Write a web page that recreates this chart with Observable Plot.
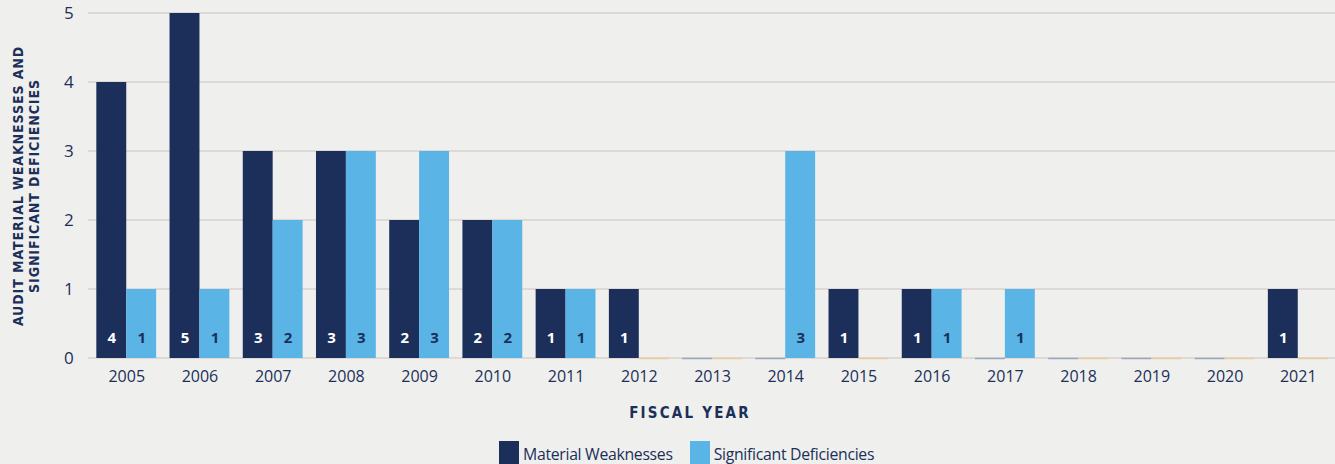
<!DOCTYPE html>
<html><head><meta charset="utf-8">
<script src="https://cdn.jsdelivr.net/npm/d3@7"></script>
<script src="https://cdn.jsdelivr.net/npm/@observablehq/plot@0.6"></script>
<style>
html,body{margin:0;padding:0;background:#efefed;}
#wrap{position:relative;width:1335px;height:464px;overflow:hidden;}
.legend{position:absolute;top:441px;left:499px;display:flex;align-items:flex-start;font-family:"Open Sans","Noto Sans",sans-serif;font-size:15.8px;color:#1c2f5a;letter-spacing:-0.3px}
.legend span.sw{display:inline-block;width:20px;height:24px;margin-right:4px;}
.legend .item{display:flex;align-items:flex-start;margin-right:17px;line-height:26px}
</style></head>
<body><div id="wrap"></div>
<script>
const years = ["2005","2006","2007","2008","2009","2010","2011","2012","2013","2014","2015","2016","2017","2018","2019","2020","2021"];
const materialWeaknesses = [4,5,3,3,2,2,1,1,0,0,1,1,0,0,0,0,1];
const significantDeficiencies = [1,1,2,3,3,2,1,0,0,3,0,1,1,0,0,0,0];
const seriesNames = ["Material Weaknesses","Significant Deficiencies"];
const yTicks = [0,1,2,3,4,5];
const colors = ["#1c2f5a","#5ab4e6"];
const navy = "#1c2f5a";

const rows = [];
years.forEach((y,i)=>{
  rows.push({year:y, series:seriesNames[0], value:materialWeaknesses[i]});
  rows.push({year:y, series:seriesNames[1], value:significantDeficiencies[i]});
});
const nonzero = rows.filter(d=>d.value>0);
const zeroMW = rows.filter(d=>d.value===0 && d.series===seriesNames[0]);
const zeroSD = rows.filter(d=>d.value===0 && d.series===seriesNames[1]);
const labelFont = '"Liberation Sans Narrow","DejaVu Sans Condensed","Open Sans",sans-serif';

const chart = Plot.plot({
  width:1335, height:464,
  marginLeft:89, marginRight:0, marginTop:13, marginBottom:106,
  style:{background:"transparent", color:navy, fontFamily:'"Open Sans","Noto Sans",sans-serif'},
  fx:{domain:years, paddingInner:0.183, paddingOuter:0.1, round:false, label:null, axis:null},
  x:{domain:seriesNames, padding:0, round:false, axis:null},
  y:{domain:[0,5], ticks:yTicks, label:null},
  color:{domain:seriesNames, range:colors},
  marks:[
    Plot.axisY({ticks:yTicks, tickSize:0, tickPadding:23, fontSize:17, tickFormat:d=>String(d), label:null}),
    Plot.axisFx({anchor:"bottom", tickSize:0, tickPadding:12, fontSize:16, label:null}),
    Plot.barY(nonzero, {fx:"year", x:"series", y:"value", fill:"series"}),
    Plot.tickY(zeroMW, {fx:"year", x:"series", y:"value", stroke:"#9aa6bf", strokeWidth:1.5}),
    Plot.tickY(zeroSD, {fx:"year", x:"series", y:"value", stroke:"#e9cc9c", strokeWidth:1.5}),
    Plot.text(nonzero, {fx:"year", x:"series", y:0, text:d=>String(d.value), dy:-20, fontSize:15, fontWeight:"bold",
      fill:d=>d.series===seriesNames[0]?"#ffffff":navy, fontFamily:'"Open Sans",sans-serif'}),
  ]
});

const wrap = document.getElementById("wrap");
wrap.appendChild(chart);

const svg = d3.select(chart.tagName.toLowerCase()==="svg"?chart:chart.querySelector("svg"));
const yScale = chart.scale("y");
const grid = svg.insert("g", ":first-child")
  .attr("stroke","#d8d1ce").attr("stroke-width",1.3);
yTicks.forEach(t=>{
  const yy = yScale.apply(t);
  grid.append("line").attr("x1",88).attr("x2",1335).attr("y1",yy).attr("y2",yy);
});

const yl = svg.append("text")
  .attr("transform","translate(0,186) rotate(-90)")
  .attr("text-anchor","middle")
  .attr("fill",navy)
  .style("font-family",labelFont)
  .style("font-weight","bold")
  .style("font-size","14px")
  .style("letter-spacing","0.9px");
yl.append("tspan").attr("x",0).attr("y",23).text("AUDIT MATERIAL WEAKNESSES AND");
yl.append("tspan").attr("x",0).attr("y",39).text("SIGNIFICANT DEFICIENCIES");

svg.append("text")
  .attr("x",690).attr("y",418)
  .attr("text-anchor","middle")
  .attr("fill",navy)
  .style("font-family",labelFont)
  .style("font-weight","bold")
  .style("font-size","15px")
  .style("letter-spacing","2.2px")
  .text("FISCAL YEAR");

const leg = document.createElement("div");
leg.className="legend";
seriesNames.forEach((s,i)=>{
  const it=document.createElement("div"); it.className="item";
  const sw=document.createElement("span"); sw.className="sw"; sw.style.background=colors[i];
  const t=document.createElement("span"); t.textContent=s;
  it.appendChild(sw); it.appendChild(t); leg.appendChild(it);
});
wrap.appendChild(leg);
</script>
</body></html>
